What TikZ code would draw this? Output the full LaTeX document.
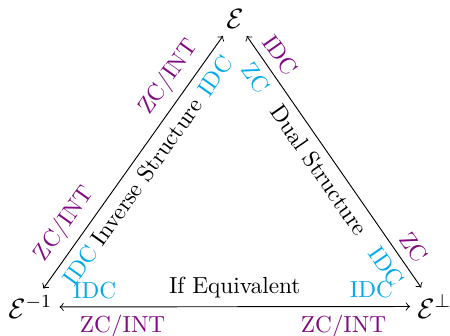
\documentclass[tikz,border=0pt]{standalone}
\usepackage{amsmath}
\definecolor{mypurple}{RGB}{128,10,128}
\definecolor{mycyan}{RGB}{0,170,235}
\begin{document}
\begin{tikzpicture}[x=0.43pt,y=-0.43pt,
  enode/.style={inner sep=3pt,font=\large},
  pur/.style={text=mypurple},
  cy/.style={text=mycyan},
  conn/.style={<->}]
\useasboundingbox (0,0) rectangle (450,335);
\node[enode] (E) at (235,19) {$\mathcal{E}$};
\node[enode,anchor=base west] (Einv) at (1,318) {$\mathcal{E}^{-1}$};
\node[enode,anchor=base west] (Eperp) at (410,318) {$\mathcal{E}^{\perp}$};
\draw[conn] (Einv) -- (E)
  node[pos=0.5,below,sloped] {Inverse Structure}
  node[pos=0.79,above,sloped,pur] {ZC/INT}
  node[pos=0.88,below,sloped,cy] {IDC}
  node[pos=0.21,above,sloped,pur] {ZC/INT}
  node[pos=0.13,below,sloped,cy] {IDC};
\draw[conn] (E) -- (Eperp)
  node[pos=0.495,below,sloped] {Dual Structure}
  node[pos=0.114,above,sloped,pur] {IDC}
  node[pos=0.128,below,sloped,cy] {ZC}
  node[pos=0.878,above,sloped,pur] {ZC}
  node[pos=0.878,below,sloped,cy] {IDC};
\draw[conn] (Einv) -- (Eperp)
  node[pos=0.5,above] {If Equivalent}
  node[pos=0.10,above,cy] {IDC}
  node[pos=0.18,below,pur] {ZC/INT}
  node[pos=0.89,above,cy] {IDC}
  node[pos=0.81,below,pur] {ZC/INT};
\end{tikzpicture}
\end{document}
